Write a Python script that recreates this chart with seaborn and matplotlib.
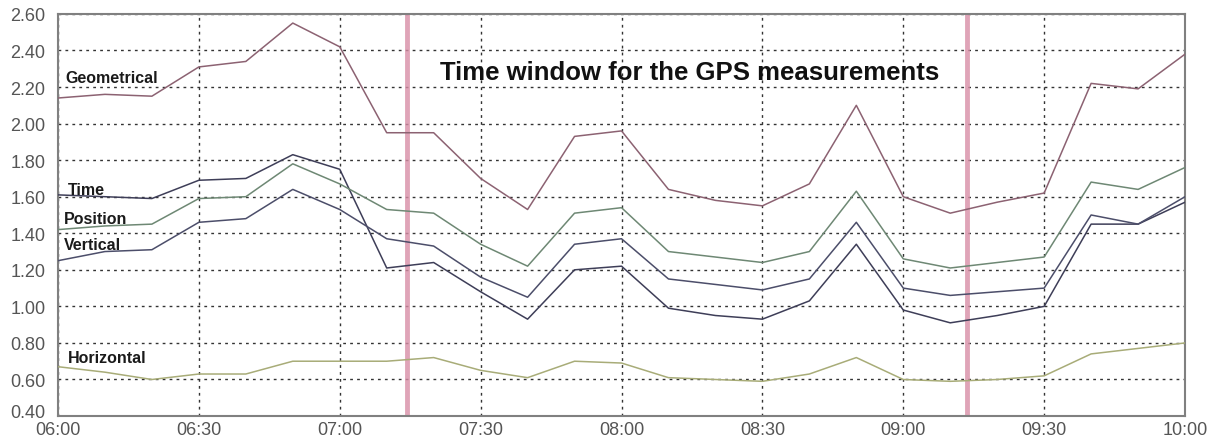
import matplotlib
matplotlib.use("Agg")
import matplotlib.pyplot as plt
import matplotlib.transforms as mtransforms
import seaborn as sns
import pandas as pd
import numpy as np
from matplotlib.ticker import FuncFormatter, MultipleLocator

# Time axis: minutes after 06:00, one sample every 10 minutes
minutes = [0, 10, 20, 30, 40, 50, 60, 70, 80, 90, 100, 110, 120,
           130, 140, 150, 160, 170, 180, 190, 200, 210, 220, 230, 240]

geometrical = [2.14, 2.16, 2.15, 2.31, 2.34, 2.55, 2.42, 1.95, 1.95, 1.70, 1.53, 1.93, 1.96,
               1.64, 1.58, 1.55, 1.67, 2.10, 1.60, 1.51, 1.57, 1.62, 2.22, 2.19, 2.38]
time_dop = [1.61, 1.60, 1.59, 1.69, 1.70, 1.83, 1.75, 1.21, 1.24, 1.08, 0.93, 1.20, 1.22,
            0.99, 0.95, 0.93, 1.03, 1.34, 0.98, 0.91, 0.95, 1.00, 1.45, 1.45, 1.57]
position = [1.42, 1.44, 1.45, 1.59, 1.60, 1.78, 1.67, 1.53, 1.51, 1.34, 1.22, 1.51, 1.54,
            1.30, 1.27, 1.24, 1.30, 1.63, 1.26, 1.21, 1.24, 1.27, 1.68, 1.64, 1.76]
vertical = [1.25, 1.30, 1.31, 1.46, 1.48, 1.64, 1.53, 1.37, 1.33, 1.16, 1.05, 1.34, 1.37,
            1.15, 1.12, 1.09, 1.15, 1.46, 1.10, 1.06, 1.08, 1.10, 1.50, 1.45, 1.60]
horizontal = [0.67, 0.64, 0.60, 0.63, 0.63, 0.70, 0.70, 0.70, 0.72, 0.65, 0.61, 0.70, 0.69,
              0.61, 0.60, 0.59, 0.63, 0.72, 0.60, 0.59, 0.60, 0.62, 0.74, 0.77, 0.80]

series_names = ["Geometrical", "Time", "Position", "Vertical", "Horizontal"]
label_pos = {"Geometrical": (1.6, 2.25), "Time": (2.2, 1.64), "Position": (1.2, 1.48),
             "Vertical": (1.2, 1.34), "Horizontal": (2.2, 0.72)}
window_edges = [74.3, 193.5]
title_text = "Time window for the GPS measurements"

colors = {"Geometrical": "#8c6272", "Time": "#3e3e58", "Position": "#6e8874",
          "Vertical": "#4c4e6a", "Horizontal": "#a8ac78"}

values = [geometrical, time_dop, position, vertical, horizontal]
df = pd.concat([pd.DataFrame({"minute": minutes, "value": v, "series": n})
                for n, v in zip(series_names, values)], ignore_index=True)

sns.set_style("white")
plt.rcParams['font.family'] = ['Liberation Sans', 'DejaVu Sans']

fig = plt.figure(figsize=(12.08, 4.39), dpi=100)
ax = fig.add_axes([0.048, 0.05, 0.933, 0.916])

sns.lineplot(data=df, x="minute", y="value", hue="series", palette=colors,
             hue_order=series_names, linewidth=1.1, legend=False, ax=ax, zorder=3)

for xv in window_edges:
    ax.axvline(xv, color="#d88ea6", linewidth=3.5, alpha=0.8, zorder=2)

ax.set_xlim(0, 240)
ax.set_ylim(0.40, 2.60)
ax.xaxis.set_major_locator(MultipleLocator(30))
ax.yaxis.set_major_locator(MultipleLocator(0.2))
ax.xaxis.set_major_formatter(FuncFormatter(lambda v, p: f"{6 + int(v) // 60:02d}:{int(v) % 60:02d}"))
ax.yaxis.set_major_formatter(FuncFormatter(lambda v, p: f"{v:.2f}"))
ax.grid(True, color="#333333", linestyle=(0, (2, 3)), linewidth=1.0, zorder=1)
ax.tick_params(axis="both", length=0, labelsize=13, colors="#555555")
ax.tick_params(axis="y", pad=9)
ax.tick_params(axis="x", pad=3.5)
ax.set_xlabel("")
ax.set_ylabel("")
for s in ax.spines.values():
    s.set_color("#808080")
    s.set_linewidth(1.5)

for name in series_names:
    x0, y0 = label_pos[name]
    ax.text(x0, y0, name, fontsize=11.5, fontweight="bold", color="#1a1a1a",
            ha="left", va="center", zorder=4)

ax.text(134.6, 2.28, title_text, fontsize=18.5, fontweight="bold", color="#111111",
        ha="center", va="center", zorder=4)

# lift the lowest y label slightly, as in the reference, so it clears "06:00"
fig.canvas.draw()
shift = mtransforms.ScaledTranslation(0, 4 / 72, fig.dpi_scale_trans)
for lbl in ax.get_yticklabels():
    if lbl.get_text() == "0.40":
        lbl.set_transform(lbl.get_transform() + shift)

fig.savefig("out.png", dpi=100)
